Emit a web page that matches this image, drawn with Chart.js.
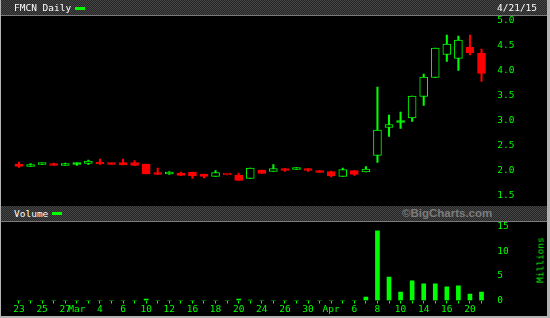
<!DOCTYPE html>
<html>
<head>
<meta charset="utf-8">
<script src="https://cdn.jsdelivr.net/npm/chart.js@4/dist/chart.umd.min.js"></script>
<style>
    html, body { margin: 0; padding: 0; background: #000; }
    #frame { position: relative; width: 550px; height: 318px; background: #b4b4b4; overflow: hidden; }
    #panel { position: absolute; left: 1px; top: 0; width: 546px; height: 316px; background: #000; }
    canvas { position: absolute; left: 1px; }
    #priceChart { top: 0; }
    #volumeChart { top: 222px; }
    .band {
        position: absolute; left: 1px; width: 546px; height: 15px;
        background: repeating-conic-gradient(#454545 0 25%, #262626 0 50%) 0 0 / 2px 2px;
        border-bottom: 1px solid #7a7a7a;
        font-family: "DejaVu Sans Mono", monospace; font-size: 9.5px; line-height: 15px; color: #fff;
    }
    .band span { position: absolute; top: 0; }
    .swatch { position: absolute; height: 3px; background: #00ff00; }
    #bandTop { top: 0; }
    #bandVol { top: 206px; }
    #brand { font-family: "Liberation Sans", Arial, sans-serif; font-weight: bold; font-size: 11.5px; color: #7c7c7c; }
    #millions {
        position: absolute; left: 540px; top: 260px; transform: translate(-50%, -50%) rotate(-90deg);
        font-family: "DejaVu Sans Mono", monospace; font-size: 9.5px; color: #00ff00; white-space: nowrap;
    }
</style>
</head>
<body>
<div id="frame">
    <div id="panel"></div>
    <canvas id="priceChart" width="546" height="205"></canvas>
    <div class="band" id="bandTop">
        <span style="left:13px">FMCN Daily</span>
        <div class="swatch" style="left:74px; top:7px; width:10px"></div>
        <span style="left:496px">4/21/15</span>
    </div>
    <div class="band" id="bandVol">
        <span style="left:13px">Volume</span>
        <div class="swatch" style="left:51px; top:6px; width:10px"></div>
        <span id="brand" style="left:401px">©BigCharts.com</span>
    </div>
    <canvas id="volumeChart" width="546" height="94"></canvas>
    <div id="millions">Millions</div>
</div>
<script>
/* Dados: pregões de 23/fev a 21/abr/2015 */
const dates = ['2/23','2/24','2/25','2/26','2/27','3/2','3/3','3/4','3/5','3/6',
               '3/9','3/10','3/11','3/12','3/13','3/16','3/17','3/18','3/19','3/20',
               '3/23','3/24','3/25','3/26','3/27','3/30','3/31','4/1','4/2','4/6',
               '4/7','4/8','4/9','4/10','4/13','4/14','4/15','4/16','4/17','4/20','4/21'];

const xTickLabels = ['23','','25','','27','Mar','','4','','6',
                     '','10','','12','','16','','18','','20',
                     '','24','','26','','30','','Apr','','6',
                     '','8','','10','','14','','16','','20',''];

const openPrices  = [2.14,2.09,2.13,2.14,2.11,2.16,2.15,2.18,2.16,2.17,
                     2.17,2.14,1.96,1.94,1.96,1.98,1.94,1.89,1.92,1.92,
                     1.85,2.02,1.99,2.05,2.03,2.05,2.01,1.99,1.89,2.01,
                     1.98,2.31,2.87,3.00,3.06,3.49,3.87,4.33,4.25,4.48,4.36];
const highPrices  = [2.18,2.15,2.16,2.16,2.16,2.16,2.22,2.24,2.16,2.24,
                     2.21,2.14,2.06,1.99,1.98,1.98,1.94,2.01,1.92,1.96,
                     2.06,2.02,2.13,2.05,2.07,2.05,2.01,2.00,2.06,2.01,
                     2.09,3.68,3.12,3.18,3.50,3.94,4.46,4.72,4.70,4.72,4.44];
const lowPrices   = [2.07,2.09,2.13,2.11,2.11,2.11,2.13,2.13,2.13,2.12,
                     2.11,1.94,1.93,1.93,1.91,1.85,1.86,1.89,1.92,1.81,
                     1.85,1.95,1.99,1.99,2.03,1.99,1.97,1.88,1.89,1.91,
                     1.98,2.17,2.69,2.85,2.99,3.31,3.87,4.19,4.01,4.32,3.79];
const closePrices = [2.09,2.13,2.15,2.11,2.12,2.13,2.20,2.14,2.13,2.12,
                     2.11,1.94,1.93,1.95,1.91,1.90,1.89,1.97,1.92,1.81,
                     2.06,1.95,2.05,2.01,2.07,2.01,1.97,1.90,2.03,1.93,
                     2.04,2.82,2.93,2.97,3.50,3.88,4.46,4.54,4.62,4.36,3.95];
const prevClose = 2.12;

/* volume em milhões */
const volumes = [0.04,0.05,0.03,0.04,0.03,0.04,0.05,0.04,0.03,0.04,
                 0.05,0.30,0.06,0.04,0.05,0.04,0.04,0.05,0.04,0.30,
                 0.08,0.06,0.05,0.04,0.04,0.05,0.04,0.05,0.06,0.04,
                 0.70,14.2,4.8,1.7,4.0,3.4,3.4,2.8,3.0,1.3,1.7];

const priceTicks  = [1.5, 2.0, 2.5, 3.0, 3.5, 4.0, 4.5, 5.0];
const volumeTicks = [0, 5, 10, 15];

const GREEN = '#00ff00';
const RED   = '#ff0000';
const tickFont = { family: 'DejaVu Sans Mono', size: 9.5 };

/* verde = fechou acima do fechamento anterior; cheio = fechou abaixo da abertura */
const candleColor = closePrices.map((c, i) => c >= (i === 0 ? prevClose : closePrices[i - 1]) ? GREEN : RED);
const isFilled    = closePrices.map((c, i) => c < openPrices[i]);

/* largura fixa do eixo direito para alinhar os dois painéis */
const AXIS_WIDTH = 59.7;
const PAD_LEFT   = 12.2;

const fixTicks = list => scale => { scale.ticks = list.map(v => ({ value: v })); };
/* sem folga extra dos rótulos: a área do gráfico fica onde o layout manda */
const fitRightAxis = s => { s.width = AXIS_WIDTH; s.paddingTop = 0; s.paddingBottom = 0; };

new Chart(document.getElementById('priceChart'), {
    type: 'bar',
    data: {
        labels: dates,
        datasets: [
            {   // corpos
                data: openPrices.map((o, i) => [o, closePrices[i]]),
                backgroundColor: ctx => isFilled[ctx.dataIndex] ? candleColor[ctx.dataIndex] : '#000',
                borderColor: candleColor,
                borderWidth: 1,
                borderSkipped: false,
                barThickness: 8,
                minBarLength: 2,
                grouped: false,
                order: 0
            },
            {   // sombras
                data: lowPrices.map((l, i) => [l, highPrices[i]]),
                backgroundColor: candleColor,
                borderWidth: 0,
                barThickness: 1.4,
                grouped: false,
                order: 1
            }
        ]
    },
    options: {
        responsive: false,
        animation: false,
        layout: { padding: { left: PAD_LEFT, top: 17, right: 0, bottom: 0 } },
        plugins: { legend: { display: false }, tooltip: { enabled: false } },
        scales: {
            x: { display: false, offset: true },
            y: {
                position: 'right',
                min: 1.32,
                max: 5.08,
                grid: { display: false, drawTicks: false },
                border: { display: false },
                afterBuildTicks: fixTicks(priceTicks),
                afterFit: fitRightAxis,
                ticks: {
                    color: GREEN,
                    font: tickFont,
                    padding: 10,
                    callback: v => Number(v).toFixed(1)
                }
            }
        }
    }
});

new Chart(document.getElementById('volumeChart'), {
    type: 'bar',
    data: {
        labels: dates,
        datasets: [{
            data: volumes,
            backgroundColor: GREEN,
            borderWidth: 0,
            barThickness: 4
        }]
    },
    options: {
        responsive: false,
        animation: false,
        layout: { padding: { left: PAD_LEFT, top: 0, right: 0, bottom: 0 } },
        plugins: { legend: { display: false }, tooltip: { enabled: false } },
        scales: {
            x: {
                offset: true,
                grid: { drawOnChartArea: false, drawTicks: true, tickLength: 3, offset: false, color: GREEN, tickColor: GREEN },
                border: { display: false },
                afterFit: s => { s.height = 15.5; s.paddingLeft = 0; s.paddingRight = 0; },
                ticks: {
                    autoSkip: false,
                    maxRotation: 0,
                    padding: 0,
                    color: GREEN,
                    font: tickFont,
                    callback: (v, i) => xTickLabels[i]
                }
            },
            y: {
                position: 'right',
                min: 0,
                max: 16.02,
                grid: { display: false, drawTicks: false },
                border: { display: false },
                afterBuildTicks: fixTicks(volumeTicks),
                afterFit: fitRightAxis,
                ticks: { color: GREEN, font: tickFont, padding: 10 }
            }
        }
    }
});
</script>
</body>
</html>
